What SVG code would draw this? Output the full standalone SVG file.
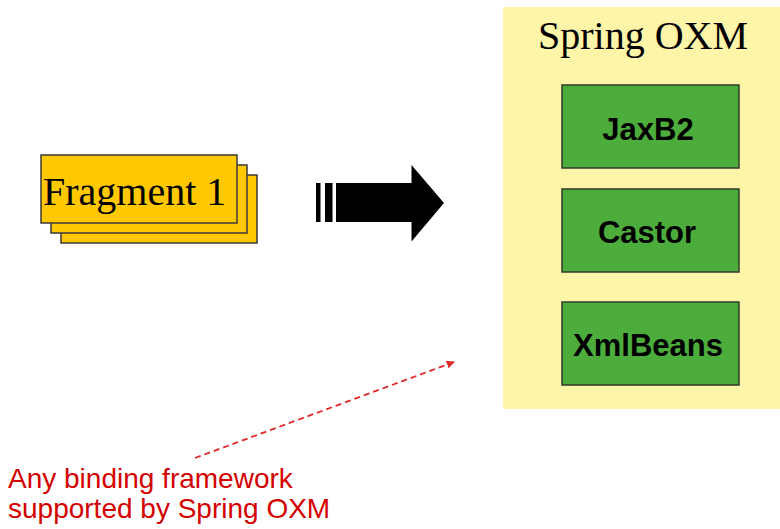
<svg xmlns="http://www.w3.org/2000/svg" width="780" height="529" viewBox="0 0 780 529">
<defs>
<style>
.frag{fill:#FFC800;stroke:#3a3a3a;stroke-width:1.5}
.fw{fill:#4CAD3C;stroke:#2f3a2a;stroke-width:1.5}
.fwt{font-family:"Liberation Sans",Arial,sans-serif;font-weight:bold;font-size:31px;fill:#000;text-anchor:middle}
.serif{font-family:"Liberation Serif","Times New Roman",serif;font-size:40px;fill:#000}
.note{font-family:"Liberation Sans",Arial,sans-serif;font-size:28px;fill:#D40000}
</style>
<marker id="redhead" viewBox="0 0 10 10" refX="9" refY="5" markerWidth="4.5" markerHeight="4.5" orient="auto">
<path d="M0,0 L10,5 L0,10 z" fill="#E02828"/>
</marker>
</defs>
<rect width="780" height="529" fill="#fff"/>
<g id="panel">
<rect x="503" y="7" width="277" height="402" fill="#FFF5A8"/>
<text class="serif" x="643" y="49" text-anchor="middle">Spring OXM</text>
</g>
<g id="jaxb2">
<rect class="fw" x="562" y="85" width="177" height="83"/>
<text class="fwt" x="648" y="140">JaxB2</text>
</g>
<g id="castor">
<rect class="fw" x="562" y="189" width="177" height="83"/>
<text class="fwt" x="647" y="243">Castor</text>
</g>
<g id="xmlbeans">
<rect class="fw" x="562" y="302" width="177" height="83"/>
<text class="fwt" x="648" y="356">XmlBeans</text>
</g>
<g id="fragments">
<rect class="frag" x="61" y="175" width="196" height="68"/>
<rect class="frag" x="51" y="165" width="196" height="68"/>
<rect class="frag" x="41" y="155" width="196" height="68"/>
<text class="serif" x="43" y="205">Fragment 1</text>
</g>
<g id="connectors">
<g id="bigarrow" fill="#000">
<rect x="316" y="183" width="4.5" height="39"/>
<rect x="325" y="183" width="7.5" height="39"/>
<polygon points="336,183 411.5,183 411.5,165 444,203 411.5,241.5 411.5,222 336,222"/>
</g>
<line x1="195" y1="458" x2="454" y2="362" stroke="#E02828" stroke-width="1.8" stroke-dasharray="6,4" marker-end="url(#redhead)"/>
</g>
<g id="note">
<text class="note" x="8" y="488">Any binding framework</text>
<text class="note" x="8" y="518">supported by Spring OXM</text>
</g>
</svg>
